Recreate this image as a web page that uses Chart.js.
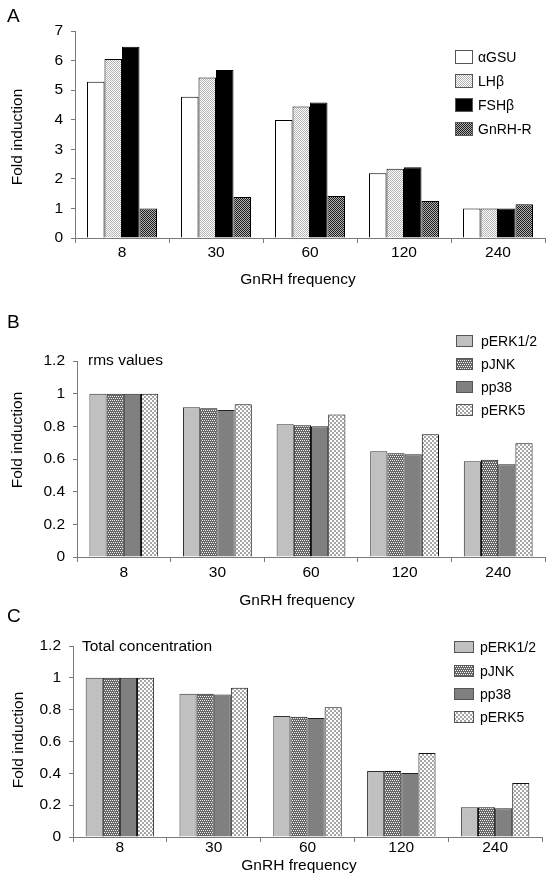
<!DOCTYPE html>
<html>
<head>
<meta charset="utf-8">
<script src="https://cdn.jsdelivr.net/npm/chart.js@4.4.0/dist/chart.umd.min.js"></script>
<style>
  html, body { margin: 0; padding: 0; background: #fff; }
  #wrap { position: relative; width: 551px; height: 882px; }
  canvas { position: absolute; left: 0; }
</style>
</head>
<body>
<div id="wrap">
  <canvas id="panelA" width="551" height="300" style="top:0px"></canvas>
  <canvas id="panelB" width="551" height="308" style="top:300px"></canvas>
  <canvas id="panelC" width="551" height="274" style="top:608px"></canvas>
</div>
<script>
// GnRH pulse interval (categories)
const frequencies = ['8', '30', '60', '120', '240'];

// panel A - gene expression
const hormoneNames = ['αGSU', 'LHβ', 'FSHβ', 'GnRH-R'];
const aGSU    = [5.28, 4.78, 3.99, 2.19, 1.0];
const lhBeta  = [6.05, 5.43, 4.45, 2.34, 1.0];
const fshBeta = [6.47, 5.68, 4.58, 2.39, 1.0];
const gnrhR   = [1.0, 1.39, 1.42, 1.25, 1.14];
const yTicksA = [0, 1, 2, 3, 4, 5, 6, 7];

// panel B - rms values
const kinaseNames = ['pERK1/2', 'pJNK', 'pp38', 'pERK5'];
const rmsERK  = [1.0, 0.917, 0.812, 0.647, 0.586];
const rmsJNK  = [1.0, 0.910, 0.806, 0.635, 0.596];
const rmsP38  = [1.0, 0.900, 0.800, 0.629, 0.568];
const rmsERK5 = [1.0, 0.935, 0.873, 0.751, 0.696];

// panel C - total concentration
const totERK  = [1.0, 0.900, 0.760, 0.415, 0.187];
const totJNK  = [1.0, 0.900, 0.756, 0.415, 0.187];
const totP38  = [1.0, 0.896, 0.748, 0.402, 0.180];
const totERK5 = [1.0, 0.938, 0.815, 0.528, 0.340];
const yTicksBC = [0, 0.2, 0.4, 0.6, 0.8, 1, 1.2];
const yTickLabelsBC = ['0', '0.2', '0.4', '0.6', '0.8', '1', '1.2'];

const FONT = '"Liberation Sans", Arial, sans-serif';
const AXIS = '#7a7a7a';

// little pixel tiles for the hatched fills
function pattern(size, bg, fg, cells) {
  const c = document.createElement('canvas');
  c.width = size; c.height = size;
  const g = c.getContext('2d');
  g.fillStyle = bg;
  g.fillRect(0, 0, size, size);
  g.fillStyle = fg;
  cells.forEach(([x, y, w, h]) => g.fillRect(x, y, w || 1, h || 1));
  return g.createPattern(c, 'repeat');
}
const lhFill   = pattern(2, '#ffffff', '#b4b4b4', [[0, 0], [1, 1]]);
const gnrhFill = pattern(2, '#b0b0b0', '#1e1e1e', [[0, 0], [1, 1]]);
const jnkFill  = pattern(4, '#666666', '#f2f2f2', [[0, 0], [2, 0], [1, 2], [3, 2]]);
const erk5Fill = pattern(4, '#ffffff', '#a6a6a6', [[0, 0, 2, 2], [2, 2, 2, 2]]);

// letter, note, legend and axis titles drawn at fixed spots
const panelDecor = {
  id: 'panelDecor',
  afterDraw(chart, args, o) {
    const ctx = chart.ctx;
    ctx.save();
    ctx.fillStyle = '#000';
    ctx.textAlign = 'left';
    ctx.textBaseline = 'alphabetic';
    ctx.font = '19px ' + FONT;
    ctx.fillText(o.letter, o.letterX, o.letterY);
    ctx.font = '15.5px ' + FONT;
    if (o.note) ctx.fillText(o.note, o.noteX, o.noteY);

    // x axis title
    ctx.textAlign = 'center';
    ctx.fillText('GnRH frequency', o.xTitleX, o.xTitleY);
    // y axis title
    ctx.save();
    ctx.translate(o.yTitleX, o.yTitleY);
    ctx.rotate(-Math.PI / 2);
    ctx.textBaseline = 'middle';
    ctx.fillText('Fold induction', 0, 0);
    ctx.restore();

    // legend
    ctx.textAlign = 'left';
    ctx.textBaseline = 'middle';
    ctx.font = '14px ' + FONT;
    chart.data.datasets.forEach((ds, i) => {
      const y = o.legendY[i];
      const top = Math.round(y - o.boxH / 2);
      ctx.fillStyle = ds.backgroundColor;
      ctx.fillRect(o.legendX, top, o.boxW, o.boxH);
      ctx.strokeStyle = '#555';
      ctx.lineWidth = 1;
      ctx.strokeRect(o.legendX + 0.5, top + 0.5, o.boxW - 1, o.boxH - 1);
      ctx.fillStyle = '#000';
      ctx.fillText(ds.label, o.textX, y + 1);
    });
    ctx.restore();
  }
};

function makePanel(id, p) {
  return new Chart(document.getElementById(id), {
    type: 'bar',
    data: { labels: frequencies, datasets: p.datasets },
    options: {
      responsive: false,
      animation: false,
      devicePixelRatio: 1,
      layout: { padding: { left: 0, top: p.top, right: 551 - p.right, bottom: 0 } },
      datasets: { bar: { categoryPercentage: p.catPct, barPercentage: 1, borderWidth: 1 } },
      plugins: { legend: { display: false }, tooltip: { enabled: false }, panelDecor: p.decor },
      scales: {
        x: {
          grid: { offset: true, drawOnChartArea: false, tickLength: 5, color: AXIS },
          border: { color: AXIS },
          ticks: { color: '#000', padding: p.xPad, font: { family: FONT, size: 15.5 } },
          afterFit: s => { s.height = p.height - p.bottom; }
        },
        y: {
          min: 0, max: p.yTicks[p.yTicks.length - 1],
          grid: { drawOnChartArea: false, tickLength: 4, color: AXIS },
          border: { color: AXIS },
          ticks: {
            color: '#000', padding: 8, font: { family: FONT, size: 15.5 },
            callback: (v, i) => p.yLabels[i]
          },
          afterBuildTicks: s => { s.ticks = p.yTicks.map(v => ({ value: v })); },
          afterFit: s => { s.width = p.left; }
        }
      }
    },
    plugins: [panelDecor]
  });
}

makePanel('panelA', {
  height: 300, left: 75, right: 545, top: 31, bottom: 238, catPct: 0.745, xPad: 0,
  yTicks: yTicksA, yLabels: yTicksA.map(String),
  datasets: [
    { label: hormoneNames[0], data: aGSU,    backgroundColor: '#ffffff', borderColor: '#000' },
    { label: hormoneNames[1], data: lhBeta,  backgroundColor: lhFill,    borderColor: '#000' },
    { label: hormoneNames[2], data: fshBeta, backgroundColor: '#000000', borderColor: '#000' },
    { label: hormoneNames[3], data: gnrhR,   backgroundColor: gnrhFill,  borderColor: '#000' }
  ],
  decor: {
    letter: 'A', letterX: 7, letterY: 22,
    xTitleX: 298, xTitleY: 284, yTitleX: 18, yTitleY: 137,
    legendX: 455, legendY: [57, 81, 105, 129], boxW: 18, boxH: 14, textX: 478
  }
});

makePanel('panelB', {
  height: 308, left: 77, right: 545, top: 61, bottom: 257, catPct: 0.735, xPad: 1,
  yTicks: yTicksBC, yLabels: yTickLabelsBC,
  datasets: [
    { label: kinaseNames[0], data: rmsERK,  backgroundColor: '#c0c0c0', borderColor: '#333' },
    { label: kinaseNames[1], data: rmsJNK,  backgroundColor: jnkFill,   borderColor: '#111' },
    { label: kinaseNames[2], data: rmsP38,  backgroundColor: '#808080', borderColor: '#222' },
    { label: kinaseNames[3], data: rmsERK5, backgroundColor: erk5Fill,  borderColor: '#111' }
  ],
  decor: {
    letter: 'B', letterX: 7, letterY: 28, note: 'rms values', noteX: 88, noteY: 65,
    xTitleX: 297, xTitleY: 305, yTitleX: 18, yTitleY: 140,
    legendX: 456, legendY: [41, 64, 87, 110], boxW: 17, boxH: 12, textX: 481
  }
});

makePanel('panelC', {
  height: 274, left: 73, right: 542, top: 38, bottom: 229, catPct: 0.73, xPad: -4,
  yTicks: yTicksBC, yLabels: yTickLabelsBC,
  datasets: [
    { label: kinaseNames[0], data: totERK,  backgroundColor: '#c0c0c0', borderColor: '#333' },
    { label: kinaseNames[1], data: totJNK,  backgroundColor: jnkFill,   borderColor: '#111' },
    { label: kinaseNames[2], data: totP38,  backgroundColor: '#808080', borderColor: '#222' },
    { label: kinaseNames[3], data: totERK5, backgroundColor: erk5Fill,  borderColor: '#111' }
  ],
  decor: {
    letter: 'C', letterX: 7, letterY: 14, note: 'Total concentration', noteX: 82, noteY: 43,
    xTitleX: 299, xTitleY: 262, yTitleX: 19, yTitleY: 132,
    legendX: 454, legendY: [39, 63, 86, 109], boxW: 20, boxH: 12, textX: 480
  }
});
</script>
</body>
</html>
